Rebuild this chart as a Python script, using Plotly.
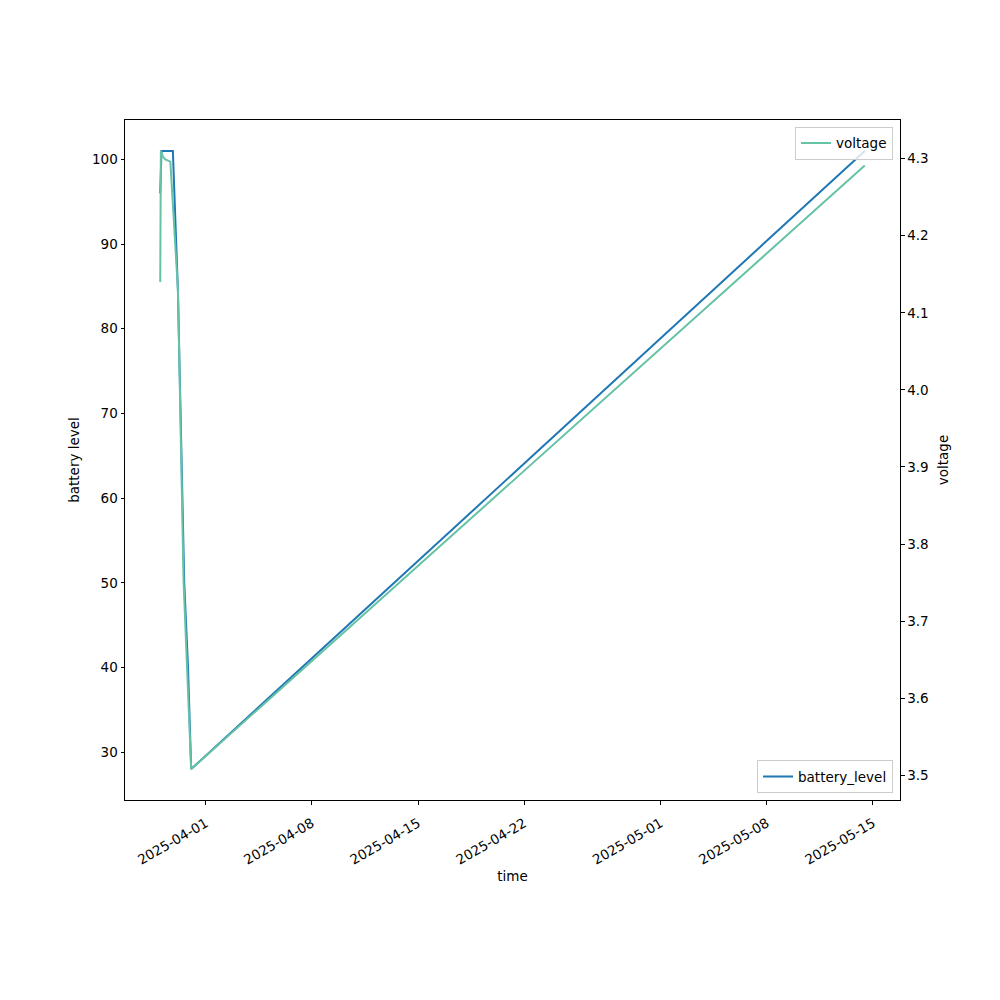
import pandas as pd
import plotly.graph_objects as go

battery_time = ["2025-03-29 00:00", "2025-03-29 02:00", "2025-03-29 20:00", "2025-03-30 04:00",
                "2025-03-30 14:00", "2025-03-30 20:00", "2025-03-31 01:00", "2025-05-14 11:00"]
battery_level = [96, 101, 101, 84.5, 50, 40, 28, 101]

voltage_time = ["2025-03-29 00:00", "2025-03-29 01:00", "2025-03-29 04:00", "2025-03-29 08:00",
                "2025-03-29 16:00", "2025-03-30 04:00", "2025-03-30 13:00", "2025-03-30 19:00",
                "2025-03-31 01:00", "2025-05-14 11:00"]
voltage = [4.14, 4.31, 4.303, 4.299, 4.296, 4.13, 3.75, 3.63, 3.508, 4.291]

x_ticks = ["2025-04-01", "2025-04-08", "2025-04-15", "2025-04-22", "2025-05-01", "2025-05-08", "2025-05-15"]
y_left_ticks = [30, 40, 50, 60, 70, 80, 90, 100]
y_right_ticks = [3.5, 3.6, 3.7, 3.8, 3.9, 4.0, 4.1, 4.2, 4.3]

BLUE = "#1f77b4"
GREEN = "#66c2a5"
FONT = dict(family="DejaVu Sans", size=13.5, color="black")


def pad_range(vals, frac=0.05):
    lo, hi = min(vals), max(vals)
    span = hi - lo
    return [lo - frac * span, hi + frac * span]


all_t = pd.to_datetime(battery_time + voltage_time)
tmin, tmax = all_t.min(), all_t.max()
tspan = tmax - tmin
x_range = [str(tmin - tspan * 0.05), str(tmax + tspan * 0.05)]

fig = go.Figure()
fig.add_trace(go.Scatter(x=battery_time, y=battery_level, mode="lines", name="battery_level",
                         line=dict(color=BLUE, width=2), yaxis="y", legend="legend2",
                         showlegend=True))
fig.add_trace(go.Scatter(x=voltage_time, y=voltage, mode="lines", name="voltage",
                         line=dict(color=GREEN, width=2), yaxis="y2", legend="legend",
                         showlegend=True))

axis_common = dict(showline=True, linecolor="black", linewidth=1, ticks="outside",
                   ticklen=3.5, tickwidth=1, tickcolor="black", showgrid=False,
                   zeroline=False, tickfont=FONT)

fig.update_layout(
    width=1000, height=1000,
    margin=dict(l=117, r=108, t=112, b=208),
    paper_bgcolor="white", plot_bgcolor="white",
    font=FONT,
    showlegend=True,
    xaxis=dict(**axis_common, range=x_range, type="date", mirror=True,
               tickvals=x_ticks, ticktext=x_ticks, tickangle=-30, ticklabelstandoff=6,
               title=dict(text="time", font=FONT, standoff=2)),
    yaxis=dict(**axis_common, range=pad_range(battery_level), mirror=False,
               tickvals=y_left_ticks, ticktext=[str(v) for v in y_left_ticks],
               title=dict(text="battery level", font=FONT, standoff=9)),
    yaxis2=dict(**axis_common, range=pad_range(voltage), overlaying="y", side="right",
                tickvals=y_right_ticks, ticktext=[f"{v:.1f}" for v in y_right_ticks],
                title=dict(text="voltage", font=FONT, standoff=10)),
    legend=dict(x=0.991, y=0.99, xanchor="right", yanchor="top", bgcolor="rgba(255,255,255,0.8)",
                bordercolor="#cccccc", borderwidth=1, font=FONT, visible=True),
    legend2=dict(x=0.991, y=0.01, xanchor="right", yanchor="bottom", bgcolor="rgba(255,255,255,0.8)",
                 bordercolor="#cccccc", borderwidth=1, font=FONT, visible=True),
)

fig.write_html("out.html")
